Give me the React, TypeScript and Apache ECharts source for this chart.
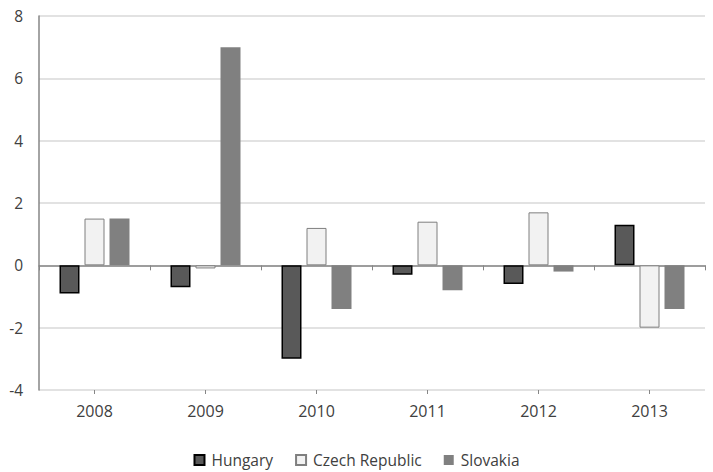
import React, { useEffect, useRef } from "react";
import * as echarts from "echarts";

const categories = ["2008", "2009", "2010", "2011", "2012", "2013"];
const hungary = [-0.9, -0.7, -3.0, -0.3, -0.6, 1.3];
const czech = [1.5, -0.1, 1.2, 1.4, 1.7, -2.0];
const slovakia = [1.5, 7.0, -1.4, -0.8, -0.2, -1.4];

const FONT = "'Open Sans', 'Noto Sans', sans-serif";

export default function App() {
  const ref = useRef<HTMLDivElement>(null);
  useEffect(() => {
    if (!ref.current) return;
    const chart = echarts.init(ref.current, null, { renderer: "svg" });
    chart.setOption({
      animation: false,
      textStyle: { fontFamily: FONT },
      grid: { left: 39, right: 8, top: 16, bottom: 82, containLabel: false },
      legend: {
        top: 452,
        left: "center",
        padding: 0,
        itemWidth: 10,
        itemHeight: 10,
        itemGap: 22,
        icon: "rect",
        textStyle: { fontFamily: FONT, fontSize: 15.5, color: "#404040", padding: [0, 0, 0, 2] },
        data: ["Hungary", "Czech Republic", "Slovakia"],
      },
      xAxis: [
        {
          type: "category",
          data: categories,
          position: "bottom",
          axisLine: { show: false, onZero: false },
          axisTick: { show: false },
          axisLabel: { fontFamily: FONT, fontSize: 16, color: "#404040", margin: 13 },
        },
        {
          type: "category",
          data: categories,
          position: "bottom",
          axisLine: { show: true, onZero: true, lineStyle: { color: "#868686", width: 1.5 } },
          axisTick: { show: true, length: 5, lineStyle: { color: "#868686" } },
          axisLabel: { show: false },
        },
        {
          type: "category",
          data: categories,
          position: "bottom",
          z: 5,
          axisLine: { show: false, onZero: true },
          axisTick: { show: true, alignWithLabel: true, length: 4, lineStyle: { color: "#868686" } },
          axisLabel: { show: false },
        },
      ],
      yAxis: {
        type: "value",
        min: -4,
        max: 8,
        interval: 2,
        axisLine: { show: true, lineStyle: { color: "#868686", width: 1.5 } },
        axisTick: { show: false },
        splitLine: { lineStyle: { color: "#d9d9d9", width: 1.5 } },
        axisLabel: { fontFamily: FONT, fontSize: 15.5, color: "#404040", margin: 16 },
      },
      series: [
        {
          name: "Hungary",
          type: "bar",
          data: hungary,
          barWidth: 20,
          barGap: "25%",
          itemStyle: { color: "#595959", borderColor: "#000000", borderWidth: 1.5 },
        },
        {
          name: "Czech Republic",
          type: "bar",
          data: czech,
          barWidth: 20,
          barGap: "25%",
          itemStyle: { color: "#f2f2f2", borderColor: "#7f7f7f", borderWidth: 1 },
        },
        {
          name: "Slovakia",
          type: "bar",
          data: slovakia,
          barWidth: 20,
          barGap: "25%",
          itemStyle: { color: "#808080" },
        },
      ],
    });
    return () => chart.dispose();
  }, []);
  return (
    <div
      ref={ref}
      style={{ position: "fixed", left: 0, top: 0, width: 713, height: 472, background: "#fff" }}
    />
  );
}
